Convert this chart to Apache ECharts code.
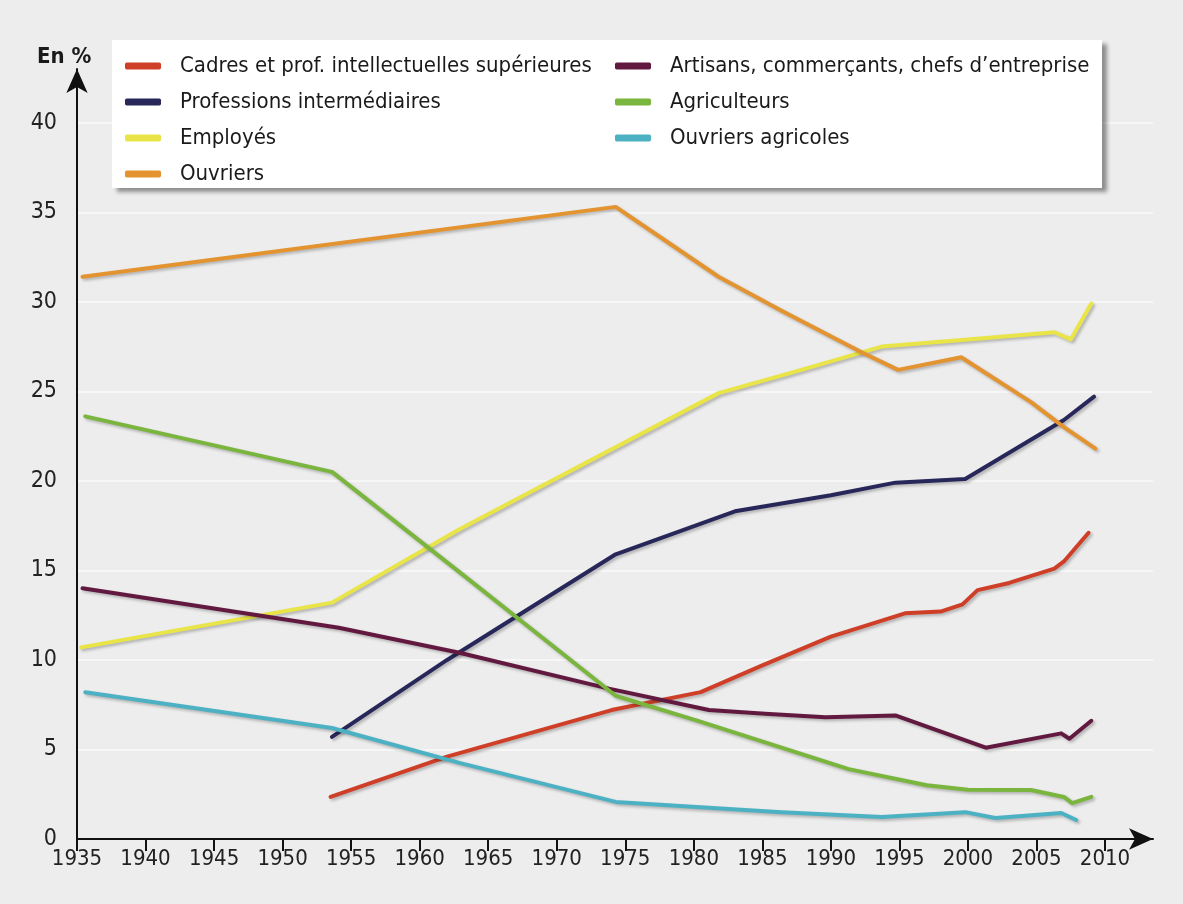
<!DOCTYPE html>
<html>
<head>
<meta charset="utf-8">
<title>Catégories socioprofessionnelles</title>
<script src="https://cdn.jsdelivr.net/npm/echarts@6.0.0/dist/echarts.min.js"></script>
<style>
  html, body { margin: 0; padding: 0; background: #ededed; }
  #chart { width: 1183px; height: 904px; }
</style>
</head>
<body>
<div id="chart"></div>
<script>
// tick labels
var years = [1935, 1940, 1945, 1950, 1955, 1960, 1965, 1970, 1975, 1980, 1985, 1990, 1995, 2000, 2005, 2010];
var pcts = [0, 5, 10, 15, 20, 25, 30, 35, 40];

var names = [
    'Cadres et prof. intellectuelles supérieures',
    'Professions intermédiaires',
    'Employés',
    'Ouvriers',
    'Artisans, commerçants, chefs d\u2019entreprise',
    'Agriculteurs',
    'Ouvriers agricoles'
];

// [année, part en %]
var cadres = [[1953.5, 2.35], [1962, 4.6], [1974, 7.2], [1980.5, 8.2], [1985, 9.7], [1990, 11.3], [1995.4, 12.6],
    [1998, 12.7], [1999.6, 13.1], [2000.7, 13.9], [2003, 14.3], [2006.3, 15.1], [2007, 15.5], [2008.8, 17.1]];
var profInter = [[1953.6, 5.7], [1962, 10.0], [1974.3, 15.9], [1983, 18.3], [1990, 19.2], [1994.7, 19.9],
    [1999.8, 20.1], [2007, 23.4], [2009.2, 24.7]];
var employes = [[1935.3, 10.7], [1953.6, 13.2], [1962.9, 17.3], [1981.8, 24.9], [1987.4, 26.1], [1993.7, 27.5],
    [2000, 27.9], [2006.3, 28.3], [2007.5, 27.9], [2009, 29.9]];
var ouvriers = [[1935.4, 31.4], [1974.3, 35.3], [1981.8, 31.4], [1986.4, 29.5], [1992.2, 27.2], [1994.9, 26.2],
    [1999.5, 26.9], [2004.6, 24.4], [2007, 23.0], [2009.3, 21.8]];
var artisans = [[1935.4, 14.0], [1954.1, 11.8], [1962.9, 10.4], [1973.8, 8.4], [1981.1, 7.2], [1985.2, 7.0],
    [1989.6, 6.8], [1994.7, 6.9], [2001.3, 5.1], [2006.8, 5.9], [2007.4, 5.6], [2009, 6.6]];
var agriculteurs = [[1935.6, 23.6], [1953.6, 20.5], [1962.9, 14.9], [1974.3, 8.0], [1980.3, 6.6], [1986.4, 5.1],
    [1991.3, 3.9], [1997, 3.0], [2000, 2.75], [2004.6, 2.74], [2007, 2.35], [2007.6, 2.0], [2009, 2.35]];
var ouvAgricoles = [[1935.6, 8.2], [1953.6, 6.2], [1962.9, 4.25], [1974.3, 2.07], [1986.4, 1.5], [1993.7, 1.23],
    [1999.8, 1.5], [2002, 1.17], [2006.8, 1.45], [2007.9, 1.06]];

var allData = [cadres, profInter, employes, ouvriers, artisans, agriculteurs, ouvAgricoles];
var colors = ['#cf3f28', '#27275a', '#e9e548', '#e39430', '#62193f', '#7ab53e', '#4cb2c3'];

var font = "'Liberation Sans Narrow', 'DejaVu Sans Condensed', 'Roboto', sans-serif";

var chart = echarts.init(document.getElementById('chart'));

var series = allData.map(function (d, i) {
    return {
        name: names[i],
        type: 'line',
        data: d,
        symbol: 'none',
        z: 2,
        lineStyle: {
            color: colors[i],
            width: 4,
            cap: 'round',
            join: 'round',
            shadowColor: 'rgba(0,0,0,0.25)',
            shadowBlur: 3,
            shadowOffsetX: 2,
            shadowOffsetY: 2
        },
        itemStyle: { color: colors[i] }
    };
});

var legendCommon = {
    orient: 'vertical',
    top: 50,
    itemWidth: 36,
    itemHeight: 7,
    itemGap: 14,
    icon: 'roundRect',
    selectedMode: false,
    textStyle: {
        fontFamily: font,
        fontSize: 22,
        color: '#1a1a1a',
        padding: [0, 0, 0, 14]
    }
};

var option = {
    backgroundColor: '#ededed',
    animation: false,
    title: {
        text: 'En %',
        left: 32,
        top: 41,
        textStyle: { fontFamily: font, fontSize: 22, fontWeight: 'bold', color: '#1a1a1a' }
    },
    graphic: [{
        type: 'rect',
        left: 112,
        top: 40,
        z: 3,
        shape: { width: 990, height: 148 },
        style: {
            fill: '#ffffff',
            shadowColor: 'rgba(0,0,0,0.4)',
            shadowBlur: 4,
            shadowOffsetX: 5,
            shadowOffsetY: 4
        }
    }],
    legend: [
        Object.assign({}, legendCommon, { left: 120, data: names.slice(0, 4) }),
        Object.assign({}, legendCommon, { left: 610, data: names.slice(4) })
    ],
    grid: {
        left: 77,
        right: 30,
        top: 69,
        bottom: 65,
        containLabel: false
    },
    xAxis: {
        type: 'value',
        min: 1935,
        max: 2013.5,
        interval: 5,
        axisLine: {
            show: true,
            symbol: ['none', 'arrow'],
            symbolSize: [16, 24],
            lineStyle: { color: '#111', width: 2 }
        },
        axisTick: {
            show: true,
            length: 12,
            lineStyle: { color: '#111', width: 2 },
            customValues: years
        },
        axisLabel: {
            customValues: years,
            margin: 9,
            fontFamily: font,
            fontSize: 22,
            color: '#222',
            formatter: function (v) { return String(v); }
        },
        splitLine: { show: false }
    },
    yAxis: {
        type: 'value',
        min: 0,
        max: 43,
        interval: 5,
        axisLine: {
            show: true,
            symbol: ['none', 'arrow'],
            symbolSize: [16, 24],
            lineStyle: { color: '#111', width: 2 }
        },
        axisTick: { show: false, customValues: pcts },
        axisLabel: {
            customValues: pcts,
            margin: 20,
            fontFamily: font,
            fontSize: 23,
            color: '#222',
            formatter: function (v) { return String(v); }
        },
        splitLine: {
            show: true,
            lineStyle: { color: '#f7f7f7', width: 2 }
        }
    },
    series: series
};

chart.setOption(option);
</script>
</body>
</html>
